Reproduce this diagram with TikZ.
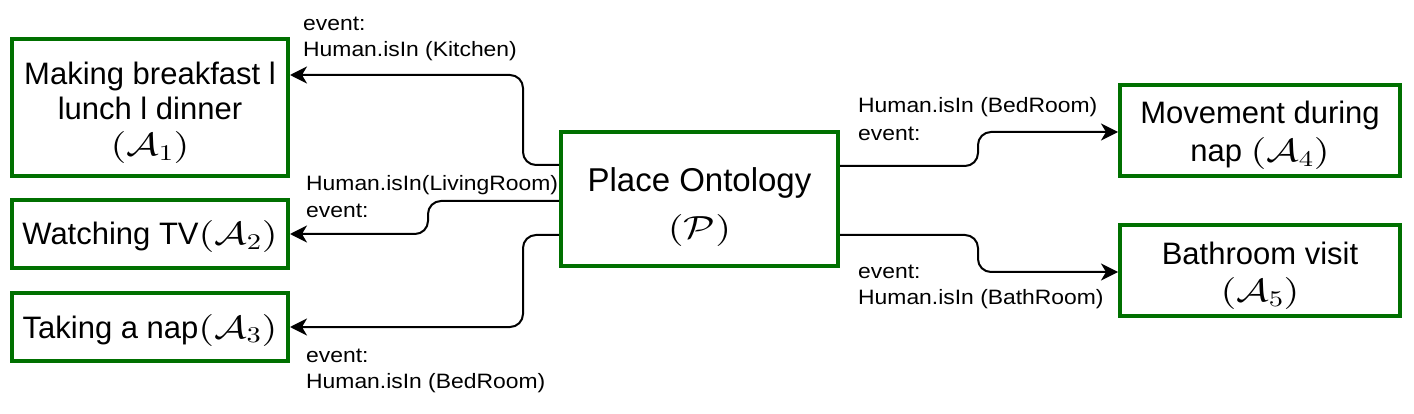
\documentclass[tikz,border=0pt]{standalone}
\usepackage[no-math]{fontspec}
\usepackage{graphicx}
\setmainfont{Liberation Sans}
\newfontfamily\lblfont[FakeStretch=1.1]{Liberation Sans}
\DeclareFontShape{OT1}{cmr}{m}{n}{<->cmr10}{}
\DeclareFontShape{OML}{cmm}{m}{it}{<->cmmi10}{}
\DeclareFontShape{OMS}{cmsy}{m}{n}{<->cmsy10}{}
\newcommand{\mathlbl}[1]{{\fontsize{32}{32}\selectfont\scalebox{1.27}[1]{$(#1)$}}}
\usetikzlibrary{arrows.meta}
\definecolor{boxgreen}{RGB}{0,112,0}
\tikzset{
  actbox/.style={draw=boxgreen, line width=4pt, inner sep=0pt, align=center,
    font=\fontsize{31}{36}\selectfont, minimum width=276pt},
  conn/.style={line width=2pt, rounded corners=13pt,
    -{Stealth[length=17pt,width=17pt,inset=5pt]}},
  lbl/.style={anchor=base west, inner sep=0pt, font=\lblfont\fontsize{20.8}{26}\selectfont},
}
\begin{document}
\begin{tikzpicture}[x=1pt,y=-1pt]
\useasboundingbox (0,0) rectangle (1414,414);
% boxes
\node[actbox, minimum height=137pt, font=\fontsize{31}{35.5}\selectfont, text height=104pt] (A1) at (150,107.5)
  {Making breakfast l\\lunch l dinner\\\mathlbl{\mathcal{A}_1}};
\node[actbox, minimum height=68pt, text height=30pt] (A2) at (150,234)
  {Watching TV\mathlbl{\mathcal{A}_2}};
\node[actbox, minimum height=68pt, text height=30pt] (A3) at (150,327)
  {Taking a nap\mathlbl{\mathcal{A}_3}};
\node[actbox, minimum width=277pt, minimum height=134pt,
  font=\fontsize{33}{47}\selectfont, text height=88pt] (P) at (699.5,199)
  {Place Ontology\\\mathlbl{\mathcal{P}}};
\node[actbox, minimum width=280pt, minimum height=91pt,
  font=\fontsize{31}{38}\selectfont, text height=71pt] (A4) at (1260,130.5)
  {Movement during\\nap \mathlbl{\mathcal{A}_4}};
\node[actbox, minimum width=280pt, minimum height=91pt,
  font=\fontsize{31}{37}\selectfont, text height=70pt] (A5) at (1260,270.5)
  {Bathroom visit\\\mathlbl{\mathcal{A}_5}};
% connectors
\draw[conn] ([yshift=34pt]P.west) -- ++(-36,0) |- ([yshift=32.5pt]A1.east);
\draw[conn] ([yshift=-2pt]P.west) -- ++(-131,0) |- (A2.east);
\draw[conn] ([yshift=-36pt]P.west) -- ++(-36,0) |- (A3.east);
\draw[conn] ([yshift=33pt]P.east) -- ++(138,0) |- ([yshift=-1.5pt]A4.west);
\draw[conn] ([yshift=-36pt]P.east) -- ++(138,0) |- ([yshift=-1.5pt]A5.west);
% labels
\node[lbl] (l1a) at (303,31) {event:};
\node[lbl] (l1b) at (303,57) {Human.isIn (Kitchen)};
\node[lbl] (l2a) at (306,191) {Human.isIn(LivingRoom)};
\node[lbl] (l2b) at (306,218) {event:};
\node[lbl] (l3a) at (306,362) {event:};
\node[lbl] (l3b) at (306,388) {Human.isIn (BedRoom)};
\node[lbl] (l4a) at (858,113) {Human.isIn (BedRoom)};
\node[lbl] (l4b) at (858,141) {event:};
\node[lbl] (l5a) at (858,279) {event:};
\node[lbl] (l5b) at (858,305) {Human.isIn (BathRoom)};
\end{tikzpicture}
\end{document}
